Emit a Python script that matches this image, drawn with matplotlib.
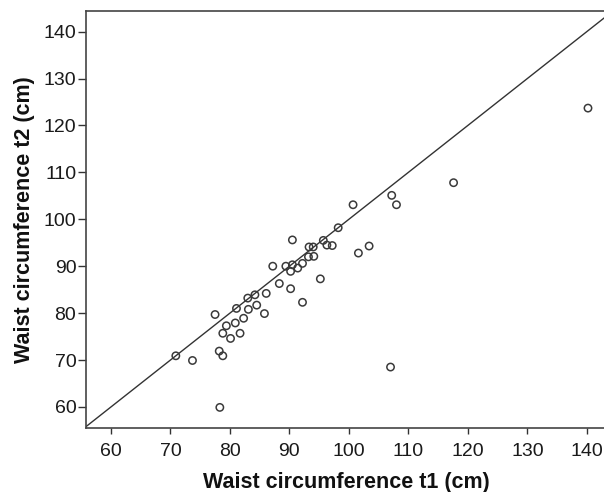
import matplotlib
matplotlib.use("Agg")
import matplotlib.pyplot as plt

# Waist circumference at t1 and t2 (cm)
waist_t1 = [70.9, 73.7, 77.5, 78.2, 78.8, 78.3, 78.8, 79.4, 80.1, 80.9,
            81.1, 81.7, 82.3, 83.0, 83.1, 84.2, 84.5, 85.8, 86.1, 87.2,
            88.3, 89.4, 90.2, 90.2, 90.5, 90.5, 91.4, 92.2, 92.2, 93.2,
            93.3, 94.0, 94.1, 95.2, 95.7, 96.3, 97.2, 98.2, 101.6, 103.4,
            100.7, 107.2, 108.0, 117.6, 140.2, 107.0]
waist_t2 = [70.9, 69.9, 79.7, 71.9, 70.9, 59.9, 75.7, 77.3, 74.6, 77.9,
            81.0, 75.7, 78.9, 83.2, 80.8, 83.9, 81.7, 79.9, 84.2, 90.0,
            86.3, 90.0, 85.2, 88.9, 95.6, 90.3, 89.6, 90.6, 82.3, 92.0,
            94.1, 94.1, 92.1, 87.3, 95.5, 94.5, 94.4, 98.2, 92.8, 94.3,
            103.1, 105.1, 103.1, 107.8, 123.7, 68.5]

x_ticks = [60, 70, 80, 90, 100, 110, 120, 130, 140]
y_ticks = [60, 70, 80, 90, 100, 110, 120, 130, 140]
x_label = "Waist circumference t1 (cm)"
y_label = "Waist circumference t2 (cm)"

plt.rcParams['font.family'] = ['Liberation Sans', 'DejaVu Sans']

fig = plt.figure(figsize=(6.04, 4.92), dpi=100)
ax = fig.add_axes([0.1424, 0.130, 0.8626, 0.8486])

ax.scatter(waist_t1, waist_t2, s=28, facecolors='none', edgecolors='#3a3a3a',
           linewidths=1.1, zorder=3)
ax.axline((60, 60), slope=1, color='#333333', linewidth=1.0, zorder=2)

ax.set_xlim(55.8, 143.4)
ax.set_ylim(55.5, 144.5)
ax.set_xticks(x_ticks)
ax.set_yticks(y_ticks)
ax.tick_params(direction='out', width=1.0, color='#333333',
               labelsize=14, labelcolor='#1a1a1a')
ax.tick_params(axis='x', length=4.5, pad=6)
ax.tick_params(axis='y', length=5.5, pad=1.5)
for sp in ax.spines.values():
    sp.set_color('#444444')
    sp.set_linewidth(1.2)

ax.set_xlabel(x_label, fontsize=15.5, fontweight='bold', labelpad=9,
              color='#111111')
ax.set_ylabel(y_label, fontsize=15.5, fontweight='bold', labelpad=6,
              color='#111111')

fig.savefig("out.png", dpi=100)
